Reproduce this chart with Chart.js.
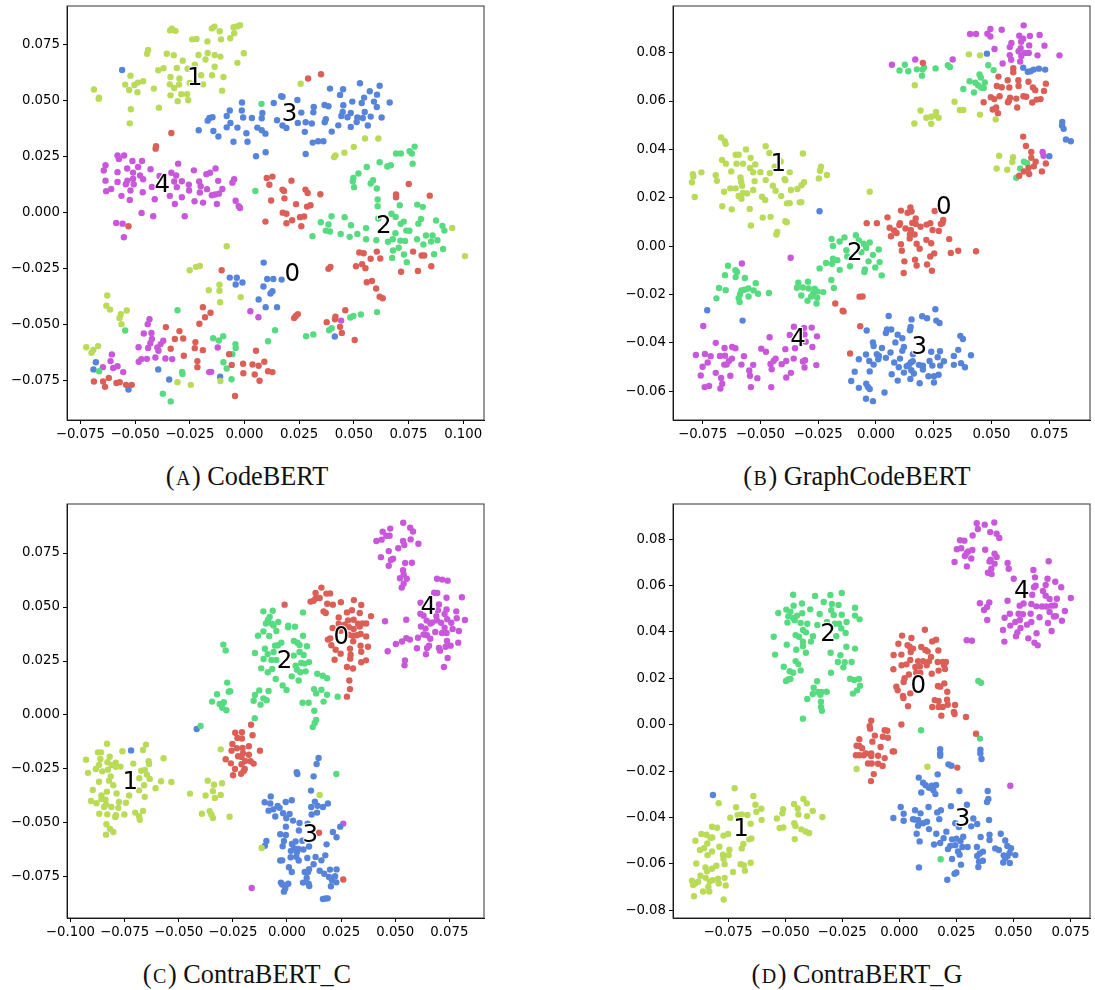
<!DOCTYPE html>
<html>
<head>
<meta charset="utf-8">
<script src="https://cdn.jsdelivr.net/npm/chart.js@4"></script>
<style>
body { margin:0; background:#fff; }
canvas { position:absolute; }
.cap { position:absolute; width:490px; text-align:center; font-family:"Liberation Serif",serif; font-size:26.3px; color:#111; line-height:30px; white-space:nowrap; }
.cap span { font-size:20px; margin:0 1.5px; }
</style>
</head>
<body>
<canvas id="chartA" width="490" height="450" style="left:0;top:0"></canvas>
<canvas id="chartB" width="490" height="450" style="left:606px;top:0"></canvas>
<canvas id="chartC" width="490" height="450" style="left:0;top:498px"></canvas>
<canvas id="chartD" width="490" height="450" style="left:606px;top:498px"></canvas>
<div class="cap" style="left:2px;top:462px">(<span>A</span>) CodeBERT</div>
<div class="cap" style="left:612px;top:462px">(<span>B</span>) GraphCodeBERT</div>
<div class="cap" style="left:2px;top:960px">(<span>C</span>) ContraBERT_C</div>
<div class="cap" style="left:612px;top:960px">(<span>D</span>) ContraBERT_G</div>
<script>
// all point values below are in thousandths of the axis unit
const red = '#db5f57', olive = '#b9db57', green = '#57db80', blue = '#5784db', purple = '#c957db';

const aRed = [[29.1,60],[35,61.9],[-33.4,35.7],[-40.4,29.8],[-40.6,28.7],[10.2,15.6],[12.8,16.2],[11.4,12.6],[21.5,14.4],[17.4,10.4],[18.1,9.8],[27.9,10.4],[28.9,8.9],[34.7,8.3],[12.2,5.5],[18.3,6.5],[23.6,3.9],[28.6,2.8],[30.2,3.4],[17.5,.1],[19.2,-.4],[75.1,12.9],[69.3,8.2],[69.3,7],[84.7,7.7],[-53,-6],[9.6,-3.9],[21.8,-3.3],[19.2,-4.6],[25.4,-1.9],[27.3,-1.6],[26,-6],[52.5,-17.7],[54.5,-18],[60.5,-17.3],[57.7,-20.5],[62.1,-20.4],[51,-23.8],[53.8,-22.9],[55.3,-24.7],[38.4,-25],[39.3,-24.2],[71.6,-26.3],[79.3,-25.9],[85.4,-23.8],[77.1,-17.3],[81,-19],[82.2,-19],[55.9,-31],[58.3,-30.4],[60.2,-33.8],[61.8,-37.4],[63.2,-38.1],[-10.4,-25.6],[-19,-42.1],[-15.5,-44.6],[-18,-46.6],[-20.6,-49.5],[24.4,-45.2],[23.5,-46],[22.7,-47],[46.1,-43.5],[41.6,-46.4],[41.4,-47.5],[37.6,-48.8],[43.7,-50.9],[44.5,-53.6],[50.4,-56.8],[-35.9,-51],[-29.7,-52.8],[-31.8,-56.3],[-28,-56.1],[-22.4,-57.7],[-22.7,-60.4],[-33.7,-60.7],[-19,-61.3],[-27.7,-63.8],[-21.5,-66.2],[-21.5,-68.9],[-7,-63.1],[5.3,-61.6],[-5.8,-67.9],[-.6,-67.4],[3.7,-67.7],[6.5,-68.3],[9.1,-66.5],[-.5,-71.6],[4.7,-72.2],[10.8,-70.7],[12.8,-71.1],[6.9,-75],[-4.3,-81.8],[-68.8,-75.3],[-64.6,-75.3],[-62,-73.7],[-63.7,-77.7],[-58.5,-76],[-57,-75.6],[-54.1,-76.8],[-51.5,-76.8]];
const aOlive = [[-34,81.5],[-33.2,82.3],[-31.5,81.3],[-14.9,82.4],[-13.7,83.2],[-11.3,81.1],[-5,82.9],[-3.4,83.3],[-2,83.8],[-4.7,80.2],[-23.9,77.5],[-21.9,77.7],[-16.9,76.6],[-10.7,77.5],[-6.5,78],[-44,72.8],[-44.5,71.1],[-35.5,71.1],[-32.3,70.4],[-21,70.5],[-16.8,71.4],[-13.6,70.5],[-11,69.8],[-.3,71.3],[-17.8,68.5],[-28.2,68],[-22.7,66.2],[-3.2,67],[-13.6,65.3],[-30.9,64.7],[-26,64.4],[-39.4,63.7],[-37,64.6],[-52.1,61.3],[-33.8,60.7],[-29.7,60],[-19.8,61.5],[-14.8,61.5],[-9.6,60.7],[-54.5,57.3],[-50.3,57.1],[-48.7,58.2],[-46.3,58.8],[-34.1,57.4],[-29.9,57.3],[-25,58],[-18.9,57.4],[-52.7,54.9],[-48.9,53.9],[-41.4,55.5],[-32.1,55.8],[-10.2,54.6],[-68.8,55.1],[-66.6,51],[-66.5,51.4],[-33.8,52.5],[-28.9,53],[-26.2,53],[-25.7,50.3],[-30.5,49.9],[-51.9,46.3],[-39.1,47],[-52.4,40],[25.7,57.7],[55.1,33.2],[61.2,33.2],[50,29.5],[45.7,26.9],[41.6,25.7],[41,24.9],[95,-6.7],[100.8,-19.3],[-8.1,-14.9],[-25,-25.6],[-22.1,-24.1],[-20.4,-23.7],[-11.4,-32.1],[-11.4,-34.8],[-16.3,-34.5],[-11.1,-39.9],[-1.7,-37.6],[-62.7,-36.9],[-63.1,-41.5],[-61.4,-43.2],[-53.8,-43.6],[-56.5,-45.2],[-57.1,-46.9],[-56.2,-49.7],[-72.3,-60],[-66.9,-59.5],[-69.1,-61.2],[-69.9,-62.5],[-30.6,-75.6],[-24.5,-76.8],[-11,-75.1]];
const aGreen = [[7.8,48.7],[77.8,29.6],[69.3,26.5],[71.5,26.5],[75.5,27.5],[76.5,26.5],[76.9,22],[61.8,22.6],[55.9,20.5],[65.3,20.7],[66.9,21.3],[52.1,17.6],[49.8,15.6],[49.5,14.1],[50.1,11.5],[58.8,14.6],[57.7,13.1],[60.5,10.9],[5,9.8],[60.9,6],[60.9,3],[71,3.4],[79,3.7],[81.5,2.7],[39.8,-1.5],[45.8,-1.9],[34.9,-4.2],[38.4,-5.2],[37.2,-7.9],[39.1,-8.3],[48.7,-5.5],[44,-9.4],[51.6,-9.4],[48.1,-10.7],[31.1,-10.4],[55.6,-6.8],[55.6,-11.8],[60.3,-12.2],[61.2,-2.5],[67.2,-.4],[69.1,-1.8],[71.4,-4.9],[72.8,-3.9],[79.5,-4.8],[80.7,-2.7],[87.6,-3.4],[90.5,-5.8],[91.4,-7.9],[74,-7.9],[75.4,-8],[69,-9.1],[83,-10.1],[86,-10.1],[78.9,-11.8],[88.2,-12.2],[85.3,-12.8],[81.8,-14.1],[65.6,-12.9],[67.8,-11.8],[71.3,-12.4],[73.4,-12.5],[70.5,-15.6],[67.9,-16.8],[72.9,-18.6],[67.5,-20.1],[74.2,-22],[86.7,-18.5],[90.8,-16.1],[60.6,-44.3],[53.2,-45.4],[49.8,-46],[48.4,-46.7],[38.7,-52.4],[39.9,-51.5],[31.5,-54.3],[28.2,-55.1],[14,-52.4],[10.8,-57.3],[-30.6,-43.5],[-54.5,-52.5],[-14.3,-56],[-11.7,-57],[-9.7,-55.1],[-4.1,-58.6],[-4,-60.3],[-5.5,-63.1],[-9.6,-66.7],[-8.1,-69.5],[-5.9,-74.3],[-28.5,-71],[-28.3,-71.9],[-66.4,-70.7],[-37.3,-80.8],[-33.7,-84.2]];
const aBlue = [[-55.9,63.8],[52.8,57.9],[61.8,56.8],[39.1,55.5],[45.1,55.2],[57.3,54.3],[43.7,52.7],[60.6,52.8],[16.8,52.1],[17.4,51.9],[54.7,51.5],[24.2,50.4],[-1.1,49.3],[13.4,49.1],[49.3,49.7],[53.6,49.1],[59.2,49.7],[66.4,49.3],[36.6,48.2],[38.4,47.6],[45.2,48.1],[60.5,47.3],[31.7,47.3],[-6.7,45.7],[-1.2,45.7],[31.5,44.9],[26,44.8],[8.2,44.6],[44.9,45.1],[48.6,44.6],[55,45.1],[44.3,43.3],[47.1,42.7],[-8.1,43.3],[-16,42.4],[-14.6,42.7],[-16.8,41.2],[-.6,42.6],[3.4,42.4],[7.9,42.3],[14.9,41.4],[51.6,42.6],[54.1,42.4],[57.7,43],[62.7,42.6],[37.2,41.8],[36.7,40.5],[51.3,40.6],[24.4,40.2],[28,40.5],[30.8,39.9],[-6.4,40.2],[17.4,39],[19.2,37.9],[42.9,39.1],[48.6,38.4],[56.4,39],[-8.1,38.2],[-3.2,38.1],[5.9,38.1],[-20.9,36.9],[-14.2,36.6],[7.9,36.9],[9.6,35.4],[.9,35.6],[27.6,36.2],[39.9,36.3],[-11.9,34.1],[-5,31.8],[1.4,31.8],[31.2,31.4],[33.7,32],[36.1,32],[9.7,27.1],[5.3,25.3],[28,26.3],[8.8,-22.2],[-6.7,-28.9],[-3.5,-29],[-.9,-31.1],[-4,-32],[10.4,-29.5],[13.2,-29.5],[17,-29.8],[8.7,-32.9],[12.8,-35],[11.9,-36],[6.5,-38.7],[9.7,-42.1],[14.9,-42.1],[41.3,-55.2],[-67.9,-66.7],[-69,-69.9],[-39.4,-69.9],[-34.4,-74.4],[-11.1,-73.2],[-53,-78.9]];
const aPurple = [[-58,25.6],[-57.4,24.1],[-55,25.6],[-51.2,23.2],[-46.8,23.2],[-63.5,21.3],[-64.3,18.9],[-53.6,19.8],[-48.6,20.5],[-42.9,19.5],[-30.3,22],[-23.1,19],[-13.2,19.8],[-58,18.2],[-50.9,18],[-47.7,16.7],[-46.3,15],[-38.8,16.5],[-33.4,17.9],[-31.2,16.7],[-17.4,17.3],[-15.7,17.9],[-63.5,14.4],[-58,13.8],[-53.5,14.4],[-50.9,15.3],[-50.6,12.8],[-54.2,12.8],[-32.1,14],[-28.6,14.1],[-25.4,12.6],[-20.7,14],[-20,11.9],[-12,14.3],[-4.7,15],[-5.5,13.5],[-42.3,11.6],[-30.9,11.5],[-63.2,9.7],[-60.9,10.7],[-52.1,10],[-46.5,9.2],[-25.3,10],[-20.4,9.1],[-17.1,10.6],[-10.1,10.7],[-56.2,7.6],[-34.1,7.6],[-28.6,7],[-14.9,7.9],[-13.4,8.2],[-11.7,8.6],[-52.4,5.8],[-41,6.1],[-22.8,5.2],[-18.9,4.6],[-12.6,4],[-31.8,4],[-4,5.4],[-2.6,3],[-2,2.2],[-47,0],[-41.7,-1.5],[-27.3,-1.5],[-58.6,-4.5],[-55.7,-4.8],[-55.1,-10.9],[2.7,-43.9],[6.4,-46.6],[-43.4,-47.5],[-44.2,-49.7],[44.2,-48.1],[-46,-53.9],[-42.5,-53.6],[-42.3,-56.3],[-37.1,-57.1],[-43,-58.2],[-48.4,-60],[-44,-60.3],[-38.3,-58.6],[-39.8,-60.1],[-39.3,-61.6],[-12.2,-60.1],[-60.6,-63.2],[-40.7,-64.6],[-44.6,-65.2],[-47.1,-65.3],[-48.3,-66.5],[-36.1,-65],[-33,-65.3],[-61.2,-66.2],[-64.7,-68.9],[-60,-69.3],[-58,-68.5],[-55.4,-71.1],[-16.1,-71.1],[-15.2,-71]];

const bRed = [[20.3,75.8],[59.4,73.6],[59.4,71.9],[53,70.1],[57,68.6],[61.6,68.6],[66,68],[73.5,67.2],[52.3,66.2],[54.4,65.7],[57.7,65.6],[61.7,66.2],[67.9,65.6],[68.9,64.5],[72.7,64.2],[49.7,61.6],[51.2,60.8],[53.5,62],[58,61.4],[57.5,60.1],[57.1,59.5],[60.7,61],[63.8,62],[65,61.8],[69.5,60.6],[71.2,60.8],[67.6,59.4],[46.6,59.5],[61.1,57.3],[50.5,56.5],[52,57.3],[52.8,55],[63.7,45.3],[64.9,41.4],[67.2,38.9],[67.2,36.5],[69.1,34.9],[73.5,34.2],[68.3,33],[66,32.3],[64,30.9],[62,29.1],[66.3,29.8],[71.8,30.9],[10.8,14.7],[14.9,16],[15.4,14.3],[13.7,13.8],[25.4,14.5],[5,11.9],[17.2,11.4],[29.1,10.8],[-4,9.5],[.4,9.5],[10.4,9.5],[15.7,9.6],[17.2,9.2],[21.9,8.9],[23.5,9.5],[28.8,9.6],[28.1,9.2],[10.1,8.7],[5.9,7.6],[12.8,7.3],[19.3,8],[15.1,6.7],[24.5,6.7],[27.2,6.3],[7.9,6.5],[8.9,5.4],[6.5,4.1],[14.7,4.8],[16.7,4.8],[14.6,3.2],[21.8,2.6],[31.7,2.9],[10.8,.8],[17.6,1],[23.9,1.2],[11.2,-1.9],[18.9,-1.1],[32.4,-2.8],[35.6,-1.9],[43.3,-2.1],[25.2,-3],[23.5,-4.3],[12.3,-6.3],[16.9,-5.6],[22.1,-7.6],[17.6,-8],[24.2,-10.2],[12,-11.1],[-7.1,-20.9],[-5.8,-20.8],[-17.6,-23.7],[-14.4,-26.7],[-14,-27],[-6.8,-33.1],[-11.2,-44.4]];
const bOlive = [[-67,44.9],[-65.4,43.4],[-65,42.3],[-56.2,40],[-47.7,41.3],[-60.7,37.8],[-59.4,37.8],[-46.1,38.5],[-54.2,36.5],[-31.6,38.3],[-66.6,35.6],[-64.9,34.1],[-60.3,34.1],[-57.5,34.1],[-52.2,33.8],[-41.2,35],[-43.8,32.8],[-54.5,32.3],[-62.6,30.9],[-53.1,30.5],[-50,30.6],[-45.9,30.2],[-37.3,30.5],[-23.8,32.8],[-24.2,31.2],[-21.2,29.4],[-24.7,28],[-79.2,29.7],[-79,28.8],[-75.5,30.5],[-69.3,29.3],[-79.6,26.4],[-68.8,27],[-58.6,28.4],[-58.3,26.6],[-57.9,25],[-52.5,26.9],[-47.7,27.3],[-39.5,27.7],[-39.2,27.2],[-44.6,25],[-31.1,26.4],[-32.2,25.2],[-63,23.9],[-60.7,23.9],[-53.1,23.2],[-43.4,22.9],[-36.8,23.2],[-34,23.6],[-65.7,22.5],[-57.5,22],[-55.7,21.8],[-59.4,20.7],[-58.2,19.6],[-49.3,20.4],[-47.9,19.1],[-41,20.7],[-78.4,20.3],[-38.5,17.7],[-37.3,17.8],[-33,18.1],[-32.3,18.2],[-66.5,16.5],[-62.4,15.2],[-54.6,15.4],[-2.7,22.5],[-54.1,8.5],[-49,11.8],[-45.6,12.1],[-39.2,10.3],[-38.6,9.9],[-42.7,5.9],[-43.1,4.8],[40.2,79.3],[45,78.9],[16.8,66.5],[34,59.7],[36.3,56.3],[37.8,56.3],[19.3,56.1],[26,55.5],[25.7,54.1],[23.9,53.5],[21.8,53.1],[27.1,53.1],[45,54.4],[51.8,52.4],[16.6,50.7],[23.9,50.6],[53.3,37.4],[59.3,36.8],[59,34.8],[52.2,32.1],[56.8,31.6]];
const bGreen = [[12.5,75],[10.2,72.6],[14,72.3],[17.7,73.1],[20.8,73.9],[20.2,73],[19.9,70.5],[25.8,73.5],[31.1,74.8],[32,74.1],[48.6,74.8],[50.9,72.8],[44.8,71],[45.4,69.7],[40.5,68.2],[43,67.6],[47.1,67.7],[44.2,66.5],[45.5,65.6],[46.6,65.4],[37.8,65],[42.4,63.5],[64,34.9],[65.4,34.3],[62.4,32.1],[60.7,28.3],[-19.2,3],[-13.6,3.6],[-15.7,1.9],[-8.7,4.5],[-18.6,.1],[-7.4,2.3],[-5.3,1],[-2.7,1.5],[-4.2,-.7],[1.2,-1.4],[-12.8,-1.7],[-6.3,-2.5],[-1.3,-3.6],[-12.4,-4.3],[-18.6,-5.2],[-16.7,-5.8],[-21.6,-7],[-19,-7.3],[1.6,-6.6],[-3.2,-6.3],[-24.4,-9.2],[-15.7,-9.8],[-11.2,-8.3],[-.3,-8.8],[-4.8,-9.6],[-5,-10.7],[2.5,-12.1],[-19.3,-14],[-18.2,-17.3],[-33.6,-15.1],[-29.4,-14.7],[-34.2,-17.2],[-31.6,-17.1],[-29.1,-17.5],[-26.5,-17.6],[-25.2,-18.8],[-22.8,-19],[-27.2,-19.7],[-32.3,-20.4],[-28,-20.8],[-25.4,-21.3],[-29.6,-22.6],[-25.7,-23.7],[-64,-8.1],[-60.8,-10],[-60.1,-10.7],[-65.3,-12],[-60.7,-12.8],[-56.7,-13.2],[-52,-15.3],[-67.9,-17.3],[-65,-18.2],[-58.2,-18.3],[-56.8,-18],[-55.2,-17.5],[-52.9,-18.3],[-51,-19.7],[-46.3,-19.4],[-58.8,-19.9],[-55.1,-20.8],[-69,-21.6],[-59.4,-21.5],[-59,-23.1]];
const bBlue = [[48,79.6],[63.7,73.8],[73.2,73],[70.5,73.4],[68.2,73],[66.9,72.3],[65.7,72.1],[80.6,51.3],[80.5,49.9],[81.2,48.5],[82.2,44.1],[84.3,43.4],[75,37.2],[-24.4,14.4],[-73,-26.5],[-57.7,-30.8],[25.7,-26.1],[5.5,-28.9],[15.4,-30.3],[20,-29],[22.1,-29.8],[26.1,-30.8],[27.5,-31.8],[15,-33.4],[14.7,-34.8],[-4,-34.9],[4.8,-34.5],[6.6,-34.5],[4.3,-35.9],[9.4,-36.6],[11.4,-38.1],[36.5,-37.1],[37.6,-38.4],[8.4,-39.8],[-1.3,-39.8],[-1,-41.3],[2.6,-42.1],[12.1,-41.7],[11.4,-43.3],[6.3,-44],[23.9,-43.7],[27.7,-43.5],[35.6,-42.9],[-4.3,-44.8],[.4,-44.7],[1.3,-45.4],[4.3,-46.2],[1,-46.8],[10.4,-46.5],[16,-44.7],[33.7,-45.4],[26.7,-45.9],[41.1,-45.1],[-7.4,-46.8],[-2.9,-47.5],[-1,-49],[7.9,-48.1],[15.9,-47.6],[23.2,-47.5],[29.4,-47.6],[9.9,-50.1],[13.3,-49.7],[14.3,-49],[15.1,-48.1],[18.6,-49.1],[20.3,-49.4],[24.4,-49.4],[27.8,-49.4],[33.7,-49.1],[36.8,-48.4],[38.5,-50.1],[20.3,-51],[15.3,-51.3],[12.1,-52.3],[16.4,-52.7],[6.8,-53],[22.7,-53.8],[25.1,-53.8],[27.1,-53.2],[-9.2,-51.9],[-2.7,-51.8],[14.9,-54.9],[18.9,-56.7],[25.1,-56.4],[9.4,-55.6],[-10.7,-55.8],[-4.2,-56.9],[-3.5,-58.2],[-7.4,-58.6],[-2.7,-59.1],[3.7,-60.5],[-4.3,-63.1],[-1.3,-64.1]];
const bPurple = [[63.9,91.3],[49.5,89.8],[54.4,89.5],[40.7,87.7],[43.3,87.7],[48.2,87.8],[49.5,86.7],[62,87],[66.6,86.9],[70.8,87.3],[63.7,85.8],[62.8,84.5],[58.6,84],[57.9,82.3],[66.3,83],[72.9,82.9],[62.6,81.9],[51.3,81.5],[61.7,80.6],[64.4,79.9],[66.1,79.9],[57.9,79],[62.9,78.6],[69.9,78.9],[79.4,78.9],[58.5,77.1],[62.4,76.3],[54.8,75.5],[6.9,75],[17,77.2],[33.2,77.2],[72.1,38.9],[72.5,37.4],[-58,-7.2],[-36.9,-4.8],[-74.7,-33],[-35.5,-33.3],[-31.1,-33.8],[-27.8,-33.7],[-37.3,-36.7],[-30.9,-36.5],[-25.5,-37.3],[-46,-37.7],[-69.3,-40],[-30.4,-39.5],[-35,-42.2],[-27.5,-41.7],[-65.5,-42.1],[-62.2,-41.7],[-60.8,-42.2],[-49.6,-42.4],[-47.6,-43.7],[-39.2,-42.6],[-77.9,-45],[-74,-44.6],[-71.5,-45.5],[-67.5,-45.4],[-65.3,-45.3],[-57.1,-45.5],[-62.3,-46.5],[-43.4,-46.5],[-44.3,-47.5],[-35.6,-46.5],[-30.7,-47.2],[-38.8,-47.5],[-72.8,-48.1],[-63.6,-47.5],[-45.6,-48.7],[-40.8,-48.8],[-31.6,-47.7],[-75,-49.9],[-65.6,-49],[-64.6,-49],[-58.2,-49],[-53.1,-49.1],[-25.8,-49.2],[-30.9,-50.2],[-45.1,-50.9],[-54.8,-51.4],[-69.3,-52.4],[-36.8,-52.4],[-75.8,-53.5],[-63,-53.6],[-67,-54.5],[-54.5,-53.6],[-51.3,-54.6],[-38.8,-54.3],[-66.5,-56.9],[-74.1,-58.3],[-72.2,-57.8],[-67.3,-58.9],[-54.1,-58.3],[-45.3,-58.3]];

const cRed = [[-1.1,51.1],[15.9,59],[13.2,56.5],[18.2,56.2],[19.9,56.3],[15.1,54.2],[13.2,53.9],[10.9,52.5],[12.3,52.9],[18.6,51.5],[21.2,51.1],[24.9,52.2],[30.9,53.2],[34.3,50.9],[27.7,47.5],[30,48.5],[33.6,47.2],[16.9,48],[17.9,47.2],[38.8,45.8],[23.9,45.2],[28.2,43.8],[30.8,44.1],[23.9,42.3],[26.6,41.8],[28.6,40.7],[32.8,42.3],[34.8,42.4],[36.6,42.4],[33.6,41],[30.8,39.8],[21.1,40.3],[24.8,39],[34,37.5],[32.3,36.9],[36.6,36.4],[28.5,37.2],[30.5,36.7],[20,35.5],[18.9,34.9],[30.6,34.1],[20.5,32.3],[34,32.1],[37.4,31.6],[29.1,30.7],[22.5,30.2],[24.8,28.4],[34.3,29.3],[29.4,27.9],[29.2,26.1],[22,25.6],[34.3,24.4],[36.5,25.3],[27.7,22.2],[30.5,21.5],[28.8,16],[29.1,12],[27.7,8.5],[-16.6,-4.5],[-23.9,-8.2],[-20.8,-8],[-15.9,-9.4],[-22.9,-10.6],[-20.8,-10.9],[-25.2,-13.4],[-25.6,-16.5],[-23.1,-15.4],[-20.5,-15.3],[-17.6,-14.5],[-12.5,-16.5],[-20.3,-17.7],[-17.6,-18.4],[-22.6,-19.1],[-21,-19.4],[-28.3,-20.5],[-19.3,-21.3],[-16.8,-21.4],[-15.4,-22.5],[-25.9,-22.4],[-21,-22.8],[-24,-25],[-19.5,-25],[-20,-25.9],[-21.2,-27.2],[-24.9,-27.9],[14.8,-54.5],[26,-76.2]];
const cOlive = [[-83.1,-13.3],[-65.1,-13.7],[-76,-16.8],[-66.5,-16.2],[-87.3,-17.3],[-85.9,-17.3],[-81.9,-19.3],[-86.2,-20.4],[-92.8,-20.7],[-57,-20],[-71,-22.5],[-63.9,-21.4],[-63.7,-22.7],[-86.8,-23.1],[-82.9,-21.9],[-80.9,-23.1],[-79.1,-22.1],[-76.9,-23.9],[-88.3,-25],[-85.3,-26.1],[-82.7,-25.3],[-79.1,-24],[-67.3,-25.8],[-65.6,-25.5],[-91.9,-26.8],[-64.7,-27.6],[-63.4,-29.6],[-81.4,-28.4],[-82.2,-30.4],[-86.8,-30.9],[-68.2,-29.3],[-58.2,-30.7],[-53.4,-31],[-80.2,-32.5],[-66,-32.5],[-60.7,-33.9],[-89.7,-34.7],[-68.3,-34.9],[-83.2,-35.5],[-78.7,-36.3],[-72.9,-37.3],[-85.7,-37.3],[-85.7,-38.9],[-65.7,-37.9],[-83.8,-39.2],[-90.5,-39.8],[-88,-40.9],[-77.6,-40.3],[-74.4,-40.6],[-83.5,-41.5],[-84.5,-42.6],[-81.1,-42.6],[-77.9,-43],[-86.7,-45.7],[-83,-46],[-79,-46.4],[-79.3,-47.2],[-75.1,-46.1],[-70.1,-45.2],[-66.5,-44.4],[-68.3,-46.9],[-68,-48.5],[-83.4,-50.6],[-81.7,-52.8],[-80.2,-54.2],[-83.6,-55.4],[-30.6,-15.9],[-36.6,-30.4],[-33.7,-32.3],[-30,-31.6],[-34.2,-35.3],[-44.8,-36.4],[-37.6,-37.3],[-30.6,-37],[-33.3,-38.4],[-39.3,-45.7],[-35.7,-44.6],[-34.9,-46.1],[-34.2,-47.7],[-26.5,-47.1],[-11.7,-61.6],[15.1,-37]];
const cGreen = [[-10.9,48],[-6.6,48.3],[7.4,47.5],[-8,45.4],[-8.8,44],[-9.7,42.4],[-6.9,42.3],[-4,43.1],[-6.2,41.4],[.6,41.4],[.5,40.6],[3.7,40.9],[-4.9,38.9],[-10.9,38.7],[-13.4,36.7],[-8.2,36.6],[7.4,36.7],[3.2,34.3],[4.8,33.5],[5.8,32.4],[-5.5,32.1],[-4.2,32.3],[-2.6,33.5],[9.2,31.8],[-10.2,30.7],[-14.8,28.7],[-8.9,28.2],[-6.2,29.2],[5.8,29.2],[3.1,27.5],[7.7,27.8],[-29.4,32.6],[-28.3,29.9],[-7.2,25.5],[-4.9,25.5],[-10.8,25.9],[10.2,24.5],[6.6,24.1],[8.2,23.8],[4,22.8],[-6.8,21.3],[-11.9,21.6],[-8.9,19.8],[4.6,21],[6.2,19.8],[8.6,20.2],[14,19.1],[16.5,18.2],[18.5,17],[2.2,17.9],[-5.2,16.7],[5.4,16],[-27.6,15],[-2,13.7],[-.2,11.6],[12.5,12],[15.9,11.7],[13.5,10],[18.5,9.4],[23.4,8.5],[-12.8,11.4],[-8.5,11.1],[-14.8,9.3],[-26.9,10.8],[-26.2,11],[-32.3,9.6],[-34.6,6.2],[-29.2,5.9],[-31.1,5.1],[-29.9,3.4],[-28,2.2],[-15.4,6.6],[-10.9,7.7],[-9.4,6.8],[-12.2,4.8],[7.2,5.7],[10,5.7],[16.9,6.2],[12.6,2],[13.5,-2.3],[12.8,-3.7],[11.9,-5.6],[-14.9,-1.5],[-39.9,-5.1],[22.8,-27.3]];
const cBlue = [[-41.7,-6.5],[-72,-16.4],[14.6,-19.9],[13.7,-22.7],[4.5,-26.5],[4.8,-27.3],[12.3,-28.4],[11.1,-35],[-7.5,-37.7],[-10.3,-40.4],[-7.7,-41],[-.6,-40.3],[2.2,-39.5],[12.9,-40.1],[18.9,-41],[-4.3,-42.1],[-3.4,-43],[11.2,-42.6],[14.1,-42],[16.6,-42.6],[-8.5,-44.3],[-6.3,-43.7],[-1.8,-45.5],[1.2,-45.8],[11.4,-46.1],[13.9,-45.2],[-5.4,-47],[-.3,-47.8],[2.8,-48.9],[5.8,-50],[9.5,-50.3],[-.5,-51.7],[5.5,-53.5],[24.6,-51.7],[21.2,-54.2],[22.9,-56.6],[-3.1,-55.2],[-.5,-55.6],[-9.5,-58.3],[-10.2,-60.6],[-1.4,-58.3],[4,-58.6],[7.1,-58.2],[-2,-60.8],[2.3,-59.7],[18.3,-59.9],[10.2,-60.9],[1.8,-62.9],[3.2,-61.7],[5.2,-62],[7.6,-62.3],[4.6,-63.6],[1.7,-65.9],[4.3,-65.6],[9.4,-66.2],[13.2,-65.7],[17.7,-65],[15.9,-67.3],[5.4,-67.4],[-3.1,-67.4],[-2.2,-67.3],[12.3,-69.1],[.9,-70.5],[2.2,-72.7],[8.2,-72.7],[10.2,-71.4],[9.7,-72.7],[15.1,-72.1],[17.2,-73.5],[19.9,-71.6],[22.9,-71.5],[19.4,-75],[22.2,-74.7],[20.8,-76.5],[22.8,-77.5],[9.1,-75.5],[7.4,-77.6],[10,-78.1],[10.3,-79.2],[20.3,-79.3],[-2.8,-77.6],[-2.2,-78.5],[.6,-78.1],[-.6,-78.9],[-.8,-80.3],[-1.4,-81.8],[16.6,-85.2],[17.9,-85],[18.8,-84.9]];
const cPurple = [[53.7,89],[56.9,86.7],[58.2,85],[47.7,86.3],[44.2,84.9],[45.9,83],[47.4,83],[41.3,80.6],[43.7,81.2],[57.1,81.3],[60.7,79.3],[53.6,80.6],[54.2,78.7],[51.4,77.2],[47,75.9],[43.4,73.1],[49,72.4],[48,71.8],[47,69.1],[54.6,70.4],[57.7,70.5],[53.6,67],[53.9,65.1],[52.2,63.3],[55.3,63.1],[53.9,60.8],[53,59],[69.3,63.1],[71.7,62.7],[74.2,62.2],[68,56.6],[69.4,56.5],[73.7,54.3],[80.8,54.5],[61.7,52],[70.2,51.2],[73.7,48.9],[78.2,48],[69.7,48.5],[61.6,46.9],[72.8,46.8],[63.1,46],[69,45.8],[78.4,44.8],[45.3,43.4],[55.1,44.1],[64.5,43.7],[74,44.3],[82.2,44],[66.3,42.4],[69.3,43.8],[67.1,42.9],[71.2,42.7],[75.9,42.7],[61.9,41],[64,40],[72.8,40.4],[76.5,39.8],[79.4,38.9],[68.5,38.4],[71.6,38],[73.7,38],[63.1,37.3],[64.7,36.9],[60.5,35.8],[66.2,35.3],[55.1,35.6],[56.8,34.9],[53.1,34],[50.3,32.9],[73.9,34.3],[79.1,33.5],[65.6,32.1],[75.6,32.1],[64.7,31],[60,30.9],[70.2,31],[73.3,31.6],[46.5,29.5],[70.7,29.8],[64.2,28.1],[74.2,26.4],[54.5,25.3],[54.3,23],[72.5,22.2],[26,-50.3],[-16.3,-80.1]];

const dRed = [[11.2,40.9],[1.2,38.4],[5.3,37.4],[16.1,36.6],[14.4,35.9],[-.4,34.9],[3.6,34.3],[4.5,33.6],[9.6,33.5],[6,32.8],[5,31.3],[11.4,32.2],[12.4,31.6],[17.1,32],[-2.5,30],[.9,30.2],[13.9,29.2],[4.8,27.9],[8.2,27.4],[10.4,27.4],[13,27.3],[16.8,27],[19.1,27],[20.4,27],[19.6,25.6],[1,25.6],[3.1,26],[7,24.9],[9,25.1],[12,25.6],[-2.6,23.9],[17.2,23.3],[20,24],[7.4,22.4],[9.2,22.3],[14.2,22],[4.2,21.6],[2.3,20],[1.9,18.4],[19.7,17.8],[-1.3,16.4],[16.9,16.7],[17.9,16.4],[-.7,14.8],[4.8,13.5],[21,14.2],[1.6,12.4],[1.8,11.5],[15.5,10.6],[17.2,10.2],[20.9,10.8],[24.4,8.5],[21.2,8.6],[14.4,7.6],[17.2,7.6],[19,7.6],[3.8,8],[23.9,5.5],[24.2,4.6],[18.4,3.9],[29.2,3.3],[-12.3,1.7],[.9,.1],[-13,-.6],[-12.8,-1.7],[-6.4,-2.4],[-5.3,-2.6],[-10.7,-4.7],[-7.2,-5.2],[-5,-5.6],[-17.5,-6.3],[-11.8,-7.3],[-18.7,-9.1],[-17.5,-9.2],[-16.3,-10.1],[-8.2,-9.6],[-2.3,-11.5],[-2.9,-11.5],[-19,-13.2],[-17.5,-13.2],[-15.6,-13.2],[-14.6,-12.4],[-12.3,-12.4],[-12.3,-13.5],[-9.3,-13.4],[-6.4,-14.4],[-13.7,-16.7],[-12.1,-16.7],[-9.3,-16.8],[-7.3,-17.8],[-11.2,-21.3],[-12.4,-24.3],[33.6,-3.9],[25.4,-18.5]];
const dOlive = [[-72.1,-27.4],[-63.9,-30.7],[-79.1,-33.8],[-63,-34.5],[-71.5,-35.6],[-60.4,-36.2],[-62.6,-37.5],[-70.8,-38.9],[-69,-38.7],[-66.5,-38.9],[-74,-40.1],[-60.3,-41],[-65.1,-42.7],[-82,-44],[-79.8,-44.4],[-86.7,-47.1],[-84.5,-47.4],[-82.7,-48.7],[-81.9,-48.6],[-77,-47.8],[-75,-47.1],[-89.3,-50],[-64.8,-49],[-65.7,-49.4],[-84.1,-51.2],[-68.3,-51.4],[-85.5,-53.2],[-87.3,-54],[-78.8,-52.6],[-74.4,-53.9],[-69,-53.3],[-82,-54.6],[-84,-56.2],[-77.2,-56],[-74.7,-56.2],[-77,-57.8],[-88.9,-59.8],[-76.5,-60.1],[-69.5,-60.1],[-68.1,-60.6],[-65.1,-59.5],[-80.1,-60.8],[-82,-62.1],[-84.9,-61.5],[-84.2,-63.2],[-67.6,-62.9],[-72.8,-63.5],[-87.1,-65.1],[-84.8,-66],[-76.5,-66],[-79.4,-66.4],[-81.7,-67],[-83,-67.5],[-79.1,-68.4],[-90.8,-67.2],[-88.1,-67.7],[-89.3,-68.3],[-90.3,-69.1],[-76,-69.3],[-83.6,-69.8],[-85.9,-71.9],[-83.2,-71.9],[-89.9,-73.9],[-76.9,-75.3],[-46.1,-34.2],[-42,-32],[-40.5,-33.9],[-44.5,-36.1],[-50.9,-36.4],[-51.2,-38.2],[-37.9,-37.2],[-44.2,-38.7],[-40.4,-39.4],[-53.6,-40.4],[-33.7,-39.8],[-46,-42.5],[-45.5,-43.7],[-52.4,-44.5],[-50.8,-44.3],[-42.9,-45.1],[-41.1,-46],[-39.5,-46.7],[-45.8,-49.3],[12.3,-18.1],[-18.7,-19.1]];
const dGreen = [[-46.5,56],[-36.9,55.5],[-30.2,55.9],[-25.2,56.8],[-33.1,52.9],[-29.5,52],[-26.6,51.6],[-46.3,51.3],[-42.6,52.2],[-19.4,50.4],[-49.5,49.6],[-47.7,48.7],[-39,49.7],[-29.8,49.3],[-53,48.1],[-48.6,46.7],[-44.8,47],[-42.5,48],[-34.9,47.7],[-28.7,47.3],[-25.2,47.4],[-19.4,47],[-17.4,45.4],[-46.5,46],[-45.8,45],[-49,44],[-43.2,43.8],[-40.3,43.5],[-35.9,43],[-31.7,44.3],[-28.3,43.5],[-26.4,43.5],[-23.1,44.3],[-25.4,41.5],[-42.2,40.8],[-40.9,39.8],[-23.5,39.5],[-45.4,38.6],[-43.9,37.9],[-37.8,38.1],[-27.6,38.1],[-55,37.9],[-42.2,35.8],[-38.7,35.8],[-49.3,34.5],[-42.2,33.8],[-45.1,32.3],[-23.2,33.6],[-19.4,32.8],[-40.9,31],[-30.1,31],[-54.4,30.2],[-25.8,29.9],[-45.4,27.4],[-44.2,26.1],[-26.9,27],[-23.9,26.9],[-20.9,27],[-24.5,24.7],[-50.6,25],[-48,23],[-46.5,22.4],[-43.2,23.4],[-29.9,22.4],[-47.7,19.7],[-48.7,19.5],[-49.6,18.8],[-21.6,19.8],[-19.8,19.3],[-17.7,19.7],[-17.2,16.8],[-18.5,14.8],[-20.3,13.4],[-36,18.7],[-37.5,15.9],[-35.5,14.1],[-34,14.1],[-31.8,14.2],[-37.9,13.2],[-34.6,12.9],[-40.3,11.1],[-34.3,9.9],[-34.3,7.6],[-33.9,6],[-42.2,2.6],[34.6,18.8],[35.8,18.1],[9.5,-2.4],[35.3,-6],[18.1,-58]];
const dBlue = [[17.9,-10.6],[17.9,-12.4],[17.9,-13.4],[35.5,-10.8],[35.5,-12.4],[36,-14.8],[21.5,-17.1],[22.8,-17.7],[16.8,-21.4],[8.5,-22.8],[10.4,-25],[11.5,-26.1],[13,-27.2],[14.2,-26.3],[16.1,-26],[14.9,-28.2],[15.8,-29.9],[9.6,-29.2],[26.3,-28.6],[38.7,-28.6],[39,-32],[38.4,-33.3],[-81.6,-30.3],[.6,-35.5],[12.8,-35.5],[22.6,-35.1],[29.6,-34.5],[6.9,-36.9],[9.3,-38.2],[1.9,-38.4],[18.2,-36.9],[16.6,-37.8],[-2.6,-40.2],[1.9,-41.4],[6,-40.7],[6.7,-40.9],[8.2,-41.1],[17.5,-40.7],[32.4,-40.4],[39.3,-41.1],[12.1,-41.8],[10.4,-42.5],[8.2,-43.5],[24.5,-42.5],[26.1,-44.1],[34.1,-42.8],[31.5,-43.8],[13,-45],[7.6,-47],[16.2,-47],[20.6,-46.1],[19.4,-48.9],[39.5,-47.4],[44.4,-47],[28,-48.3],[35.6,-48.4],[23.1,-49.4],[25,-49.1],[26.8,-50.1],[39.5,-49.7],[46.4,-49.9],[8.9,-50.3],[17.9,-51],[15.2,-51.6],[22.3,-52.2],[24.5,-51.9],[21.3,-53.6],[27.6,-52.7],[29.9,-52.7],[34,-52.7],[42,-53.3],[43.6,-54],[47.3,-52.3],[48.9,-53.2],[25.7,-54.6],[26.4,-56],[36.6,-54.7],[35.2,-55.5],[34.1,-56.6],[48.3,-55.3],[50.8,-56.2],[45.7,-56.3],[47.4,-56.6],[46.4,-57.5],[23.1,-57.9],[34.9,-59],[36.6,-58.6],[45.5,-59.4],[48.4,-59.6],[27,-60.3],[34.6,-61.3],[8.6,-61.5],[25,-63.7],[24.2,-64.2],[21,-66.8]];
const dPurple = [[33.9,86.8],[37.4,86.2],[41.6,87.1],[34.4,84.3],[39.8,83],[32.1,81.5],[42.6,82.3],[43.8,80.5],[26.6,79.5],[28.5,79.3],[25.2,75.6],[27.1,76],[32,75.3],[30.2,74.7],[29.5,74],[37.6,75.4],[41.7,73.7],[28.7,72.7],[42.6,72.3],[31.5,71.6],[40,71.1],[39.5,70.3],[41.7,69.4],[24.2,70.1],[29.6,68.2],[47.4,69.7],[65.4,70.4],[47.9,67.2],[40.3,67.2],[38.8,65.5],[40.4,64.9],[58.7,66.7],[59.4,63.5],[50.1,62.9],[64.9,62.9],[68.3,61.6],[64.1,60.2],[70.9,59.2],[59.7,59.9],[59,59.2],[62.9,57.6],[75.1,54.6],[58.2,56],[64.1,55.6],[65.8,54.2],[69,54.3],[47.4,53.4],[35.3,52.3],[39.4,52.7],[57.8,52],[54.4,52.2],[52.7,51.3],[60,51],[62.5,50.9],[64.4,50.9],[66.6,51.3],[68.1,51.4],[38.4,50.7],[37.1,49.4],[72.5,49],[65.8,48.6],[48.4,47.8],[52.2,47.8],[54.1,47.6],[57.5,47.8],[46.1,46.1],[61.4,46.3],[67.7,46.6],[68.6,46.8],[38.5,45.1],[52.8,45.1],[50.8,44.3],[71.2,44.8],[57.8,44.3],[55.9,43.1],[48.6,42.7],[65.1,43.8],[53.1,41.7],[45.4,40.8],[66.7,40.4],[51.7,39.8],[60.1,39.4],[51.1,38.1],[56.5,37.2],[29.5,36.4],[31.8,36.2],[46,35.8],[59.2,35.3],[60.6,34.2],[48.6,-26.3]];

// cluster id, x, y of the number written on each panel
const aLabels = [['0',21.9,-27.4],['1',-22.7,60],['2',63.7,-6],['3',20.6,43.8],['4',-37.6,12.1]];
const bLabels = [['0',29.4,16],['1',-42.2,33.5],['2',-9.2,-2.9],['3',18.7,-42],['4',-33.7,-38.7]];
const cLabels = [['0',25.1,35.6],['1',-72.4,-31.2],['2',-1.1,24.5],['3',10.8,-56],['4',65.3,49.5]];
const dLabels = [['0',8.3,16.5],['1',-69.3,-45.4],['2',-31.2,38.9],['3',27.7,-41.1],['4',53.6,57.5]];

const aXTicks = [-0.075,-0.05,-0.025,0,0.025,0.05,0.075,0.1];
const aYTicks = [-0.075,-0.05,-0.025,0,0.025,0.05,0.075];
const bXTicks = [-0.075,-0.05,-0.025,0,0.025,0.05,0.075];
const bYTicks = [-0.06,-0.04,-0.02,0,0.02,0.04,0.06,0.08];
const cXTicks = [-0.1,-0.075,-0.05,-0.025,0,0.025,0.05,0.075];
const cYTicks = [-0.075,-0.05,-0.025,0,0.025,0.05,0.075];
const dXTicks = [-0.075,-0.05,-0.025,0,0.025,0.05,0.075];
const dYTicks = [-0.08,-0.06,-0.04,-0.02,0,0.02,0.04,0.06,0.08];

function toPoints(list){
    return list.map(function(p){ return {x: p[0]/1000, y: p[1]/1000}; });
}

function axisOptions(range, ticks, digits, size, isX){
    return {
        type: 'linear',
        min: range[0],
        max: range[1],
        afterBuildTicks: function(scale){
            scale.ticks = ticks.map(function(v){ return {value: v}; });
        },
        afterFit: function(scale){
            if(isX) scale.height = size; else scale.width = size;
            scale.paddingLeft = 0; scale.paddingRight = 0;
            scale.paddingTop = 0; scale.paddingBottom = 0;
        },
        grid: {drawOnChartArea: false, drawTicks: true, tickLength: 4, color: '#000', lineWidth: 1},
        border: {display: true, color: '#000'},
        ticks: {
            autoSkip: false,
            maxRotation: 0,
            padding: 3,
            color: '#000',
            font: {family: 'DejaVu Sans', size: 13.3},
            callback: function(v){
                return (v < 0 ? '\u2212' : '') + Math.abs(v).toFixed(digits);
            }
        }
    };
}

const panelDecor = {
    id: 'panelDecor',
    afterDatasetsDraw: function(chart, args, opts){
        const c = chart.ctx, a = chart.chartArea;
        c.save();
        c.strokeStyle = '#333';
        c.lineWidth = 1;
        c.strokeRect(a.left, a.top, a.right-a.left, a.bottom-a.top);
        c.font = '24.5px "DejaVu Sans"';
        c.textAlign = 'center';
        c.textBaseline = 'middle';
        c.lineJoin = 'round';
        opts.labels.forEach(function(l){
            const x = chart.scales.x.getPixelForValue(l[1]/1000);
            const y = chart.scales.y.getPixelForValue(l[2]/1000);
            c.strokeStyle = '#fff';
            c.lineWidth = 2;
            c.strokeText(l[0], x, y);
            c.fillStyle = '#000';
            c.fillText(l[0], x, y);
        });
        c.restore();
    }
};

function ScatterPanel(canvasid, groups, labels, xrange, yrange, xticks, yticks, ydigits){
    const ctx = document.getElementById(canvasid).getContext('2d');
    const colors = [red, olive, green, blue, purple];
    const chart = new Chart(ctx, {
        type: 'scatter',
        data: {
            datasets: groups.map(function(g, i){
                return {data: toPoints(g), backgroundColor: colors[i], pointRadius: 3.2, pointBorderWidth: 0};
            })
        },
        options: {
            responsive: false,
            animation: false,
            layout: {padding: {top: 6, right: 6, left: 0, bottom: 0}},
            plugins: {legend: {display: false}, tooltip: {enabled: false}, panelDecor: {labels: labels}},
            scales: {
                x: axisOptions(xrange, xticks, 3, 30, true),
                y: axisOptions(yrange, yticks, ydigits, 67, false)
            }
        },
        plugins: [panelDecor]
    });
}

ScatterPanel('chartA', [aRed,aOlive,aGreen,aBlue,aPurple], aLabels, [-0.0811,0.1095], [-0.0925,0.0924], aXTicks, aYTicks, 3);
ScatterPanel('chartB', [bRed,bOlive,bGreen,bBlue,bPurple], bLabels, [-0.0878,0.0926], [-0.0719,0.0993], bXTicks, bYTicks, 2);
ScatterPanel('chartC', [cRed,cOlive,cGreen,cBlue,cPurple], cLabels, [-0.1016,0.091], [-0.094,0.0977], cXTicks, cYTicks, 3);
ScatterPanel('chartD', [dRed,dOlive,dGreen,dBlue,dPurple], dLabels, [-0.0991,0.0835], [-0.0833,0.0951], dXTicks, dYTicks, 2);
</script>
</body>
</html>
